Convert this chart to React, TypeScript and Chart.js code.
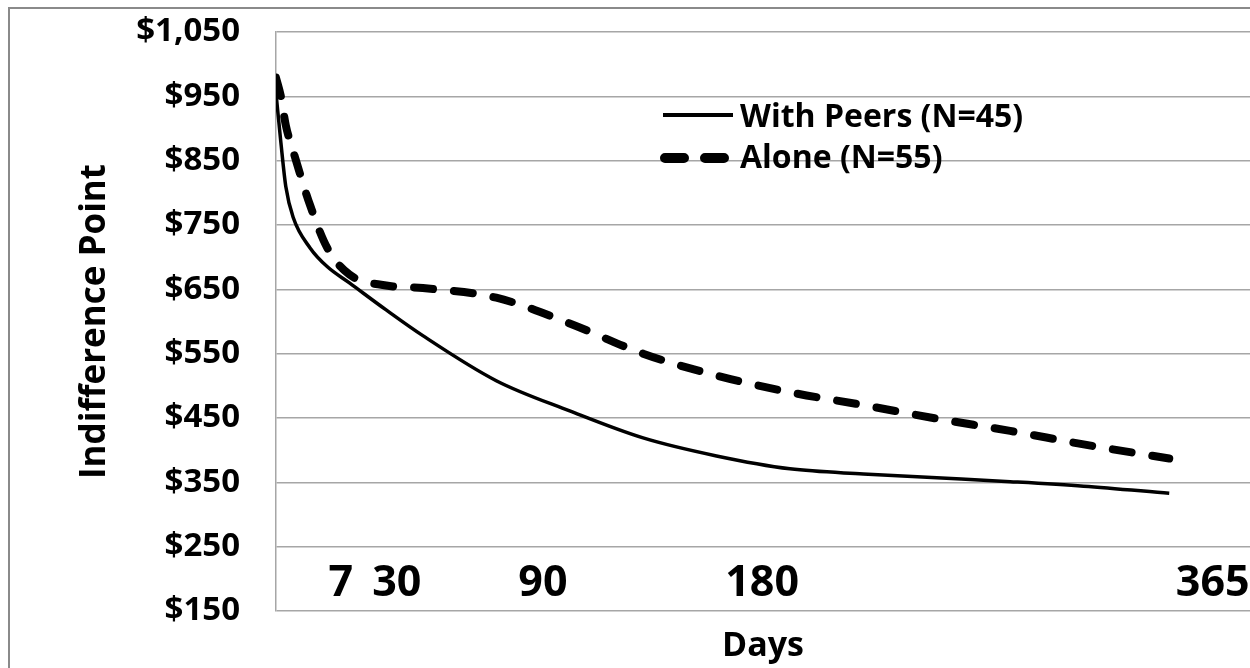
import React, { useEffect, useRef } from "react";
import { Chart, registerables } from "chart.js";

Chart.register(...registerables);

// ---- data ----
const days = [0, 2, 4, 7, 14, 21, 30, 45, 60, 90, 120, 150, 180, 210, 240, 270, 300, 330, 365];
const withPeersValues = [955, 878, 810, 762, 714, 685, 660, 618, 578, 508, 461, 419, 391, 371, 363, 357, 351, 344, 333];
const aloneValues = [979, 950, 905, 865, 780, 714, 673, 656, 652, 637, 597, 550, 516, 490, 470, 449, 430, 409, 387];
const seriesLabels = ["With Peers (N=45)", "Alone (N=55)"];
const dayTickLabels = [7, 30, 90, 180, 365];
const yMin = 150;
const yMax = 1050;
const yStep = 100;
const xAxisTitle = "Days";
const yAxisTitle = "Indifference Point";

const FONT = "'Open Sans', 'Noto Sans', sans-serif";
const GRID = "#a6a6a6";

export default function App() {
  const ref = useRef<HTMLCanvasElement>(null);

  useEffect(() => {
    const canvas = ref.current;
    if (!canvas) return;
    const chart = new Chart(canvas, {
      type: "line",
      data: {
        datasets: [
          {
            label: seriesLabels[0],
            data: days.map((d, i) => ({ x: d, y: withPeersValues[i] })),
            borderColor: "#000",
            backgroundColor: "#000",
            borderWidth: 3.5,
            pointRadius: 0,
            cubicInterpolationMode: "monotone",
            fill: false,
            xAxisID: "x",
            yAxisID: "y",
          },
          {
            label: seriesLabels[1],
            data: days.map((d, i) => ({ x: d, y: aloneValues[i] })),
            borderColor: "#000",
            backgroundColor: "#000",
            borderWidth: 8,
            borderDash: [19, 21],
            borderCapStyle: "round",
            borderJoinStyle: "round",
            pointRadius: 0,
            cubicInterpolationMode: "monotone",
            fill: false,
            xAxisID: "x",
            yAxisID: "y",
          },
        ],
      },
      options: {
        animation: false,
        responsive: false,
        maintainAspectRatio: false,
        layout: { padding: { top: 32, left: 0, right: 0, bottom: 0 } },
        plugins: { legend: { display: false }, tooltip: { enabled: false } },
        scales: {
          x: { type: "linear", min: 0, max: 398, display: false },
          x2: {
            type: "linear",
            axis: "x",
            position: "bottom",
            min: -19.6,
            max: 380.3,
            afterBuildTicks: (s: any) => {
              s.ticks = dayTickLabels.map((v) => ({ value: v }));
            },
            afterFit: (s: any) => {
              s.height = 57;
              s.paddingLeft = 0;
              s.paddingRight = 0;
            },
            grid: { display: false, drawTicks: false },
            border: { display: false },
            ticks: {
              mirror: true,
              padding: 1,
              autoSkip: false,
              maxRotation: 0,
              color: "#000",
              font: { family: FONT, size: 43, weight: "bold" },
              callback: (v: any) => String(v),
            },
            title: {
              display: true,
              text: xAxisTitle,
              color: "#000",
              font: { family: FONT, size: 34, weight: "bold" },
              padding: { top: 0, bottom: 1 },
            },
          },
          y: {
            type: "linear",
            position: "left",
            min: yMin,
            max: yMax,
            afterFit: (s: any) => {
              s.width = 276;
            },
            grid: {
              color: GRID,
              lineWidth: 1.5,
              drawTicks: true,
              tickLength: 36,
              tickColor: "rgba(0,0,0,0)",
            },
            border: { color: GRID, width: 1.5 },
            ticks: {
              stepSize: yStep,
              padding: 0,
              color: "#000",
              font: { family: FONT, size: 33, weight: "bold" },
              callback: (v: any) => "$" + Number(v).toLocaleString("en-US"),
            },
            title: {
              display: true,
              text: yAxisTitle,
              color: "#000",
              font: { family: FONT, size: 35, weight: "bold" },
              padding: { top: 74, bottom: 0 },
            },
          },
        },
      },
    } as any);
    return () => chart.destroy();
  }, []);

  return (
    <div
      style={{
        position: "absolute",
        left: 0,
        top: 0,
        width: 1250,
        height: 668,
        overflow: "hidden",
        background: "#fff",
      }}
    >
      <div
        style={{
          position: "absolute",
          left: 8,
          top: 7,
          width: 1400,
          height: 800,
          border: "2px solid #8a8a8a",
        }}
      />
      <canvas
        ref={ref}
        width={1250}
        height={668}
        style={{ position: "absolute", left: 0, top: 0, width: 1250, height: 668 }}
      />
      <svg
        width={1250}
        height={668}
        style={{ position: "absolute", left: 0, top: 0, pointerEvents: "none" }}
      >
        <line x1={663} x2={733} y1={115} y2={115} stroke="#000" strokeWidth={4} />
        <text x={740} y={127} fontFamily={FONT} fontWeight={700} fontSize={32} fill="#000">
          {seriesLabels[0]}
        </text>
        <line
          x1={665}
          x2={725}
          y1={158}
          y2={158}
          stroke="#000"
          strokeWidth={10}
          strokeLinecap="round"
          strokeDasharray="19 21"
        />
        <text x={740} y={168} fontFamily={FONT} fontWeight={700} fontSize={32} fill="#000">
          {seriesLabels[1]}
        </text>
      </svg>
    </div>
  );
}
